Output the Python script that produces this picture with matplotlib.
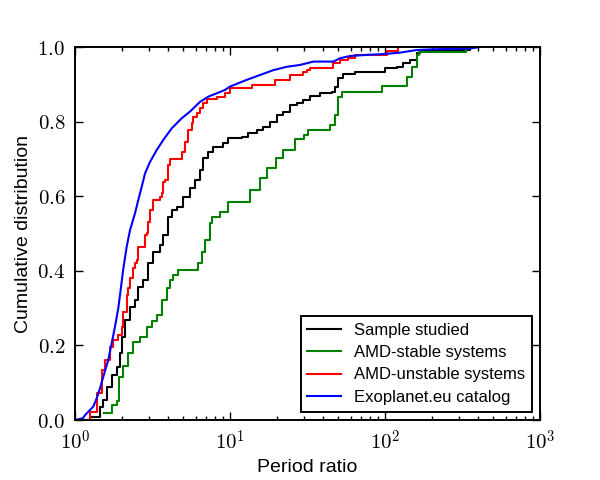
import matplotlib
matplotlib.use("Agg")
import matplotlib.pyplot as plt
from matplotlib.ticker import FuncFormatter, LogLocator, FixedLocator

# ---- data ----
BLACK_X = [1.20, 1.25, 1.45, 1.522, 1.602, 1.725, 1.858, 1.951, 2.001, 2.102,
           2.264, 2.438, 2.561, 2.758, 2.971, 3.20, 3.534, 3.713, 4.0, 4.206,
           4.53, 4.997, 5.52, 5.946, 6.405, 6.73, 7.244, 7.80, 9.05, 9.75,
           11.9, 13.13, 14.86, 16.40, 18.11, 20.0, 22.07, 24.38, 26.9, 29.7,
           32.8, 38.1, 45.3, 47.6, 50.0, 53.8, 64.0, 100, 119, 131.3,
           145, 160, 168, 353]
BLACK_Y = [0.0, 0.007, 0.036, 0.054, 0.089, 0.121, 0.143, 0.179, 0.223, 0.268,
           0.304, 0.322, 0.357, 0.375, 0.420, 0.451, 0.469, 0.496, 0.545, 0.563,
           0.572, 0.598, 0.621, 0.643, 0.670, 0.702, 0.719, 0.733, 0.742, 0.755,
           0.760, 0.769, 0.777, 0.786, 0.800, 0.818, 0.827, 0.845, 0.849, 0.858,
           0.869, 0.877, 0.880, 0.894, 0.916, 0.929, 0.934, 0.943, 0.947, 0.956,
           0.965, 0.983, 0.992, 1.0]

GREEN_X = [1.538, 1.733, 1.866, 1.931, 2.05, 2.208, 2.377, 2.625, 2.901, 3.12,
           3.367, 3.625, 3.905, 4.102, 4.307, 4.64, 6.245, 6.56, 6.90, 7.43,
           7.62, 8.61, 9.70, 13.45, 15.62, 17.26, 19.81, 21.98, 26.24, 30.0,
           31.8, 44.2, 47.6, 49.7, 52.6, 95.2, 138, 148.6, 160.2, 166.4, 333]
GREEN_Y = [0.019, 0.040, 0.051, 0.116, 0.145, 0.179, 0.210, 0.223, 0.250, 0.265,
           0.281, 0.322, 0.353, 0.375, 0.389, 0.402, 0.420, 0.451, 0.483, 0.527,
           0.545, 0.558, 0.585, 0.617, 0.649, 0.676, 0.702, 0.724, 0.753, 0.764,
           0.777, 0.791, 0.818, 0.867, 0.880, 0.895, 0.920, 0.947, 0.979, 0.987, 1.0]

RED_X = [1.18, 1.25, 1.380, 1.487, 1.561, 1.682, 1.767, 1.903, 2.001, 2.049,
         2.156, 2.208, 2.264, 2.377, 2.438, 2.50, 2.561, 2.829, 2.901, 2.971,
         3.048, 3.20, 3.534, 3.625, 3.713, 3.807, 4.0, 4.10, 4.88, 5.125,
         5.383, 5.66, 5.80, 6.10, 6.405, 6.73, 7.07, 8.21, 9.28, 10.0,
         13.8, 19.5, 24.4, 29.7, 31.3, 32.8, 46.4, 51.3, 58.0, 64.0,
         102.6, 121.9]
RED_Y = [0.0, 0.022, 0.072, 0.134, 0.161, 0.197, 0.214, 0.228, 0.250, 0.290,
         0.335, 0.353, 0.380, 0.407, 0.420, 0.429, 0.465, 0.496, 0.501, 0.530,
         0.563, 0.590, 0.597, 0.608, 0.638, 0.643, 0.684, 0.700, 0.719, 0.746,
         0.777, 0.795, 0.813, 0.822, 0.836, 0.849, 0.862, 0.867, 0.876, 0.889,
         0.898, 0.912, 0.925, 0.933, 0.938, 0.945, 0.956, 0.965, 0.970, 0.979,
         0.990, 1.0]

BLUE_X = [1.0, 1.077, 1.126, 1.16, 1.25, 1.312, 1.380, 1.45, 1.522, 1.64,
          1.725, 1.811, 1.903, 1.951, 2.049, 2.156, 2.264, 2.438, 2.561, 2.693,
          2.829, 3.048, 3.367, 3.713, 4.206, 4.88, 5.52, 6.405, 7.244, 8.21,
          9.28, 10.0, 12.82, 15.62, 19.02, 23.2, 28.3, 34.5, 46.4, 51.3,
          59.5, 76.2, 97.5, 125, 160, 205, 353, 410]
BLUE_Y = [0.0, 0.003, 0.005, 0.013, 0.027, 0.036, 0.058, 0.085, 0.116, 0.161,
          0.206, 0.250, 0.300, 0.335, 0.405, 0.465, 0.509, 0.554, 0.590, 0.625,
          0.661, 0.692, 0.724, 0.751, 0.782, 0.809, 0.827, 0.853, 0.867, 0.876,
          0.885, 0.894, 0.912, 0.925, 0.938, 0.947, 0.952, 0.961, 0.961, 0.970,
          0.976, 0.979, 0.981, 0.985, 0.992, 0.994, 0.996, 1.0]

LABELS = ["Sample studied", "AMD-stable systems", "AMD-unstable systems",
          "Exoplanet.eu catalog"]
X_TICKS = [1, 10, 100, 1000]
Y_TICKS = [0.0, 0.2, 0.4, 0.6, 0.8, 1.0]

# ---- style ----
plt.rcParams['font.family'] = ['Liberation Sans', 'DejaVu Sans']
plt.rcParams['mathtext.fontset'] = 'cm'

fig = plt.figure(figsize=(6, 4.8), dpi=100, facecolor='white')
ax = fig.add_axes([0.125, 0.125, 0.775, 0.777])
ax.set_facecolor('white')

ax.plot(BLACK_X, BLACK_Y, drawstyle='steps-post', color='k', lw=1.5, label=LABELS[0])
ax.plot(GREEN_X, GREEN_Y, drawstyle='steps-post', color=(0, 0.5, 0), lw=1.5, label=LABELS[1])
ax.plot(RED_X, RED_Y, drawstyle='steps-post', color=(1, 0, 0), lw=1.5, label=LABELS[2])
ax.plot(BLUE_X, BLUE_Y, color=(0, 0, 1), lw=1.5, label=LABELS[3])

ax.set_xscale('log')
ax.set_xlim(1, 1000)
ax.set_ylim(0, 1)

ax.xaxis.set_major_locator(FixedLocator(X_TICKS))
ax.xaxis.set_minor_locator(LogLocator(base=10, subs=range(2, 10)))
ax.xaxis.set_major_formatter(FuncFormatter(lambda v, p: r'$10^{%d}$' % round(__import__('math').log10(v))))
ax.yaxis.set_major_locator(FixedLocator(Y_TICKS))
ax.yaxis.set_major_formatter(FuncFormatter(lambda v, p: r'$%.1f$' % v))

ax.tick_params(which='both', direction='in', top=True, right=True, labelsize=15)
ax.tick_params(which='major', length=6, width=1.0, pad=7)
ax.tick_params(which='minor', length=3, width=1.0)
for s in ax.spines.values():
    s.set_linewidth(1.4)

ax.set_xlabel('Period ratio', fontsize=14)
ax.set_ylabel('Cumulative distribution', fontsize=14)

leg = ax.legend(loc='lower right', fontsize=12, fancybox=False, frameon=True,
                handlelength=2.0, borderaxespad=0.5, labelspacing=0.45)
leg.get_frame().set_edgecolor('black')
leg.get_frame().set_linewidth(1.4)
leg.get_frame().set_alpha(1.0)

fig.savefig('out.png', dpi=100, facecolor='white')
